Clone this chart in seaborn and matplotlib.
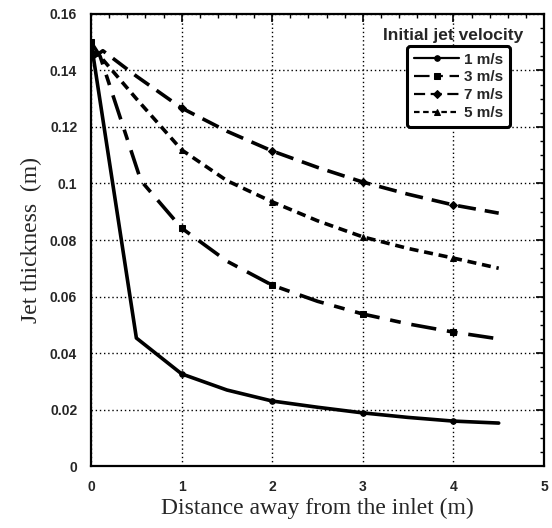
import numpy as np
import pandas as pd
import seaborn as sns
import matplotlib
matplotlib.use("Agg")
import matplotlib.pyplot as plt
from matplotlib.ticker import MultipleLocator, FuncFormatter

# Jet thickness profiles along the channel for several inlet velocities
x_1 = [0.0, 0.5, 1.0, 1.5, 2.0, 2.5, 3.0, 3.5, 4.0, 4.5]
h_1 = [0.150, 0.0453, 0.0326, 0.0269, 0.0230, 0.0208, 0.0188, 0.0172, 0.0159, 0.0152]

x_3 = [0.0, 0.1, 0.55, 1.0, 1.5, 2.0, 2.5, 3.0, 3.5, 4.0, 4.5]
h_3 = [0.150, 0.145, 0.101, 0.0842, 0.0725, 0.0640, 0.0583, 0.0538, 0.0503, 0.0474, 0.0450]

x_7 = [0.0, 0.13, 0.5, 1.0, 1.5, 2.0, 2.5, 3.0, 3.5, 4.0, 4.5]
h_7 = [0.144, 0.147, 0.138, 0.1267, 0.1185, 0.1115, 0.1057, 0.1005, 0.0962, 0.0924, 0.0895]

x_5 = [0.0, 0.1, 0.5, 1.0, 1.5, 2.0, 2.5, 3.0, 3.5, 4.0, 4.5]
h_5 = [0.147, 0.145, 0.130, 0.1119, 0.1010, 0.0935, 0.0868, 0.0811, 0.0770, 0.0736, 0.0700]

labels = ["1 m/s", "3 m/s", "7 m/s", "5 m/s"]
series = [(x_1, h_1), (x_3, h_3), (x_7, h_7), (x_5, h_5)]
styles = [
    dict(linestyle="-", marker="o", markersize=4),
    dict(linestyle=(0, (7, 3, 3, 3)), marker="s", markersize=5),
    dict(linestyle=(0, (5, 2.5)), marker="D", markersize=4),
    dict(linestyle=(0, (2.5, 1.6)), marker="^", markersize=5),
]

sns.set_style("white")
plt.rcParams["font.family"] = ["Liberation Sans", "DejaVu Sans"]

fig = plt.figure(figsize=(5.52, 5.28), dpi=100)
ax = fig.add_axes([0.165, 0.1174, 0.8205, 0.8561])

for (xs, hs), lab, st in zip(series, labels, styles):
    df = pd.DataFrame({"x": xs, "h": hs})
    marks = [i for i, v in enumerate(xs) if float(v).is_integer() and (v > 0 or lab == "3 m/s")]
    sns.lineplot(data=df, x="x", y="h", ax=ax, color="black", linewidth=2.6,
                 label=lab, markevery=marks, markeredgecolor="black",
                 markerfacecolor="black", sort=False, **st)

ax.set_xlim(0, 5)
ax.set_ylim(0, 0.16)
ax.xaxis.set_major_locator(MultipleLocator(1))
ax.xaxis.set_minor_locator(MultipleLocator(0.2))
ax.yaxis.set_major_locator(MultipleLocator(0.02))
ax.yaxis.set_minor_locator(MultipleLocator(0.005))
ax.xaxis.set_major_formatter(FuncFormatter(lambda v, p: f"{v:g}"))
ax.yaxis.set_major_formatter(FuncFormatter(lambda v, p: f"{round(v, 3):g}"))

ax.grid(True, which="major", color="black", linestyle=(0, (1, 2)), linewidth=1.0)
ax.tick_params(which="both", direction="in", top=True, right=True, color="black")
ax.tick_params(which="major", length=6, width=1.2, labelsize=10, pad=10)
ax.tick_params(which="minor", length=3, width=1.0)
for lab in ax.get_xticklabels() + ax.get_yticklabels():
    lab.set_fontweight("bold")
for sp in ax.spines.values():
    sp.set_color("black")
    sp.set_linewidth(1.6)

ax.set_xlabel("Distance away from the inlet (m)", family=["Liberation Serif", "DejaVu Serif"],
              fontsize=17, labelpad=3)
ax.set_ylabel("Jet thickness  (m)", family=["Liberation Serif", "DejaVu Serif"],
              fontsize=17, labelpad=6)

leg = ax.legend(loc="upper right", bbox_to_anchor=(0.925, 0.93), borderaxespad=0,
                frameon=True, fancybox=True, handlelength=3.0, handletextpad=0.3,
                prop=dict(weight="bold", size=11), borderpad=0.45, labelspacing=0.25)
leg.get_frame().set_edgecolor("black")
leg.get_frame().set_linewidth(2.2)
leg.get_frame().set_alpha(1)
for h in leg.get_lines():
    h.set_linewidth(1.6)
ax.text(0.955, 0.97, "Initial jet velocity", transform=ax.transAxes,
        ha="right", va="top", fontsize=12.5, fontweight="bold")

fig.savefig("out.png", dpi=100)
